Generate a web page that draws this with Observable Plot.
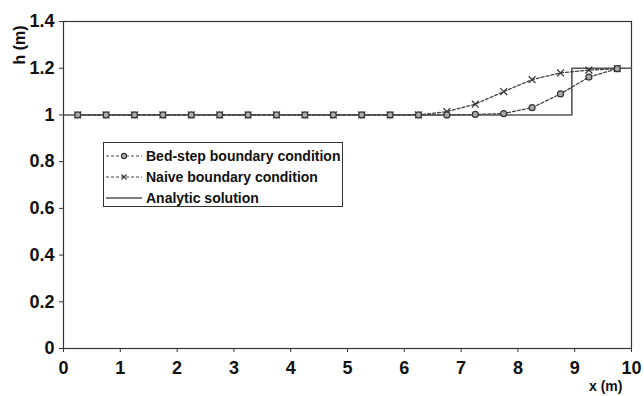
<!DOCTYPE html>
<html>
<head>
<meta charset="utf-8">
<script src="https://cdn.jsdelivr.net/npm/d3@7"></script>
<script src="https://cdn.jsdelivr.net/npm/@observablehq/plot@0.6"></script>
<style>
  body { margin: 0; background: #fff; }
  #wrap { position: relative; width: 644px; height: 396px; font-family: "Liberation Sans", Arial, sans-serif; color: #111; }
  .lab { position: absolute; font-weight: bold; font-size: 14px; white-space: nowrap; }
  #legend { position: absolute; left: 103px; top: 142px; width: 240px; height: 65px; border: 1px solid #333; background: #fff; box-sizing: border-box; padding-top: 2px; }
  .row { display: flex; align-items: center; height: 21px; font-size: 14px; font-weight: bold; }
  .row svg { margin-left: 2px; margin-right: 4px; }
</style>
</head>
<body>
<div id="wrap"></div>
<script>
// Data
const xPoints = [0.25, 0.75, 1.25, 1.75, 2.25, 2.75, 3.25, 3.75, 4.25, 4.75,
                 5.25, 5.75, 6.25, 6.75, 7.25, 7.75, 8.25, 8.75, 9.25, 9.75];
const bedStep = [1, 1, 1, 1, 1, 1, 1, 1, 1, 1,
                 1, 1, 1, 1, 1.002, 1.006, 1.031, 1.09, 1.162, 1.198];
const naive   = [1, 1, 1, 1, 1, 1, 1, 1, 1, 1,
                 1, 1, 1, 1.014, 1.046, 1.1, 1.151, 1.18, 1.192, 1.198];
const analyticX = [0, 8.95, 8.95, 10];
const analyticY = [1, 1, 1.2, 1.2];
const xTicks = [0, 1, 2, 3, 4, 5, 6, 7, 8, 9, 10];
const yTicks = [0, 0.2, 0.4, 0.6, 0.8, 1, 1.2, 1.4];
const seriesNames = ["Bed-step boundary condition", "Naive boundary condition", "Analytic solution"];

const bedData = xPoints.map((x, i) => ({x, y: bedStep[i]}));
const naiveData = xPoints.map((x, i) => ({x, y: naive[i]}));
const anaData = analyticX.map((x, i) => ({x, y: analyticY[i]}));

const dash = "3,2";
const fmt = d => `${d}`;
const plot = Plot.plot({
  width: 644,
  height: 396,
  marginLeft: 63,
  marginRight: 13,
  marginTop: 21,
  marginBottom: 48,
  style: {fontFamily: "'Liberation Sans', Arial, sans-serif", color: "#111", background: "transparent"},
  x: {domain: [0, 10]},
  y: {domain: [0, 1.4]},
  marks: [
    Plot.frame({stroke: "#333", strokeWidth: 1.2}),
    Plot.axisX({ticks: xTicks, tickFormat: fmt, tickSize: 4, tickPadding: 9, label: null, stroke: "#333", fontSize: 18, fontWeight: "bold", fill: "#111"}),
    Plot.axisY({ticks: yTicks, tickFormat: fmt, tickSize: 4, tickPadding: 5, label: null, stroke: "#333", fontSize: 18, fontWeight: "bold", fill: "#111"}),
    Plot.line(anaData, {x: "x", y: "y", stroke: "#555", strokeWidth: 1.6}),
    Plot.line(naiveData, {x: "x", y: "y", stroke: "#444", strokeWidth: 1.3, strokeDasharray: dash}),
    Plot.line(bedData, {x: "x", y: "y", stroke: "#444", strokeWidth: 1.3, strokeDasharray: dash}),
    Plot.dot(naiveData, {x: "x", y: "y", symbol: "times", r: 3.2, stroke: "#333", strokeWidth: 1.2}),
    Plot.dot(bedData, {x: "x", y: "y", symbol: "circle", r: 3, stroke: "#333", fill: "#aaa", strokeWidth: 1.2})
  ]
});

const wrap = document.getElementById("wrap");
wrap.appendChild(plot);

// axis titles
const xl = document.createElement("div");
xl.className = "lab";
xl.textContent = "x (m)";
xl.style.left = "589px";
xl.style.top = "378px";
wrap.appendChild(xl);

const yl = document.createElement("div");
yl.className = "lab";
yl.textContent = "h (m)";
yl.style.fontSize = "16px";
yl.style.left = "0px";
yl.style.top = "36px";
yl.style.transform = "rotate(-90deg)";
wrap.appendChild(yl);

// legend
const leg = document.createElement("div");
leg.id = "legend";
const samples = [
  `<svg width="36" height="10"><line x1="0" y1="5" x2="36" y2="5" stroke="#444" stroke-width="1.2" stroke-dasharray="${dash}"/><circle cx="18" cy="5" r="2.6" stroke="#333" fill="#aaa" stroke-width="1.1"/></svg>`,
  `<svg width="36" height="10"><line x1="0" y1="5" x2="36" y2="5" stroke="#444" stroke-width="1.2" stroke-dasharray="${dash}"/><path d="M15.5,2.5L20.5,7.5M15.5,7.5L20.5,2.5" stroke="#333" stroke-width="1.1"/></svg>`,
  `<svg width="36" height="10"><line x1="0" y1="5" x2="36" y2="5" stroke="#555" stroke-width="1.4"/></svg>`
];
seriesNames.forEach((name, i) => {
  const r = document.createElement("div");
  r.className = "row";
  r.innerHTML = samples[i] + `<span>${name}</span>`;
  leg.appendChild(r);
});
wrap.appendChild(leg);
</script>
</body>
</html>
